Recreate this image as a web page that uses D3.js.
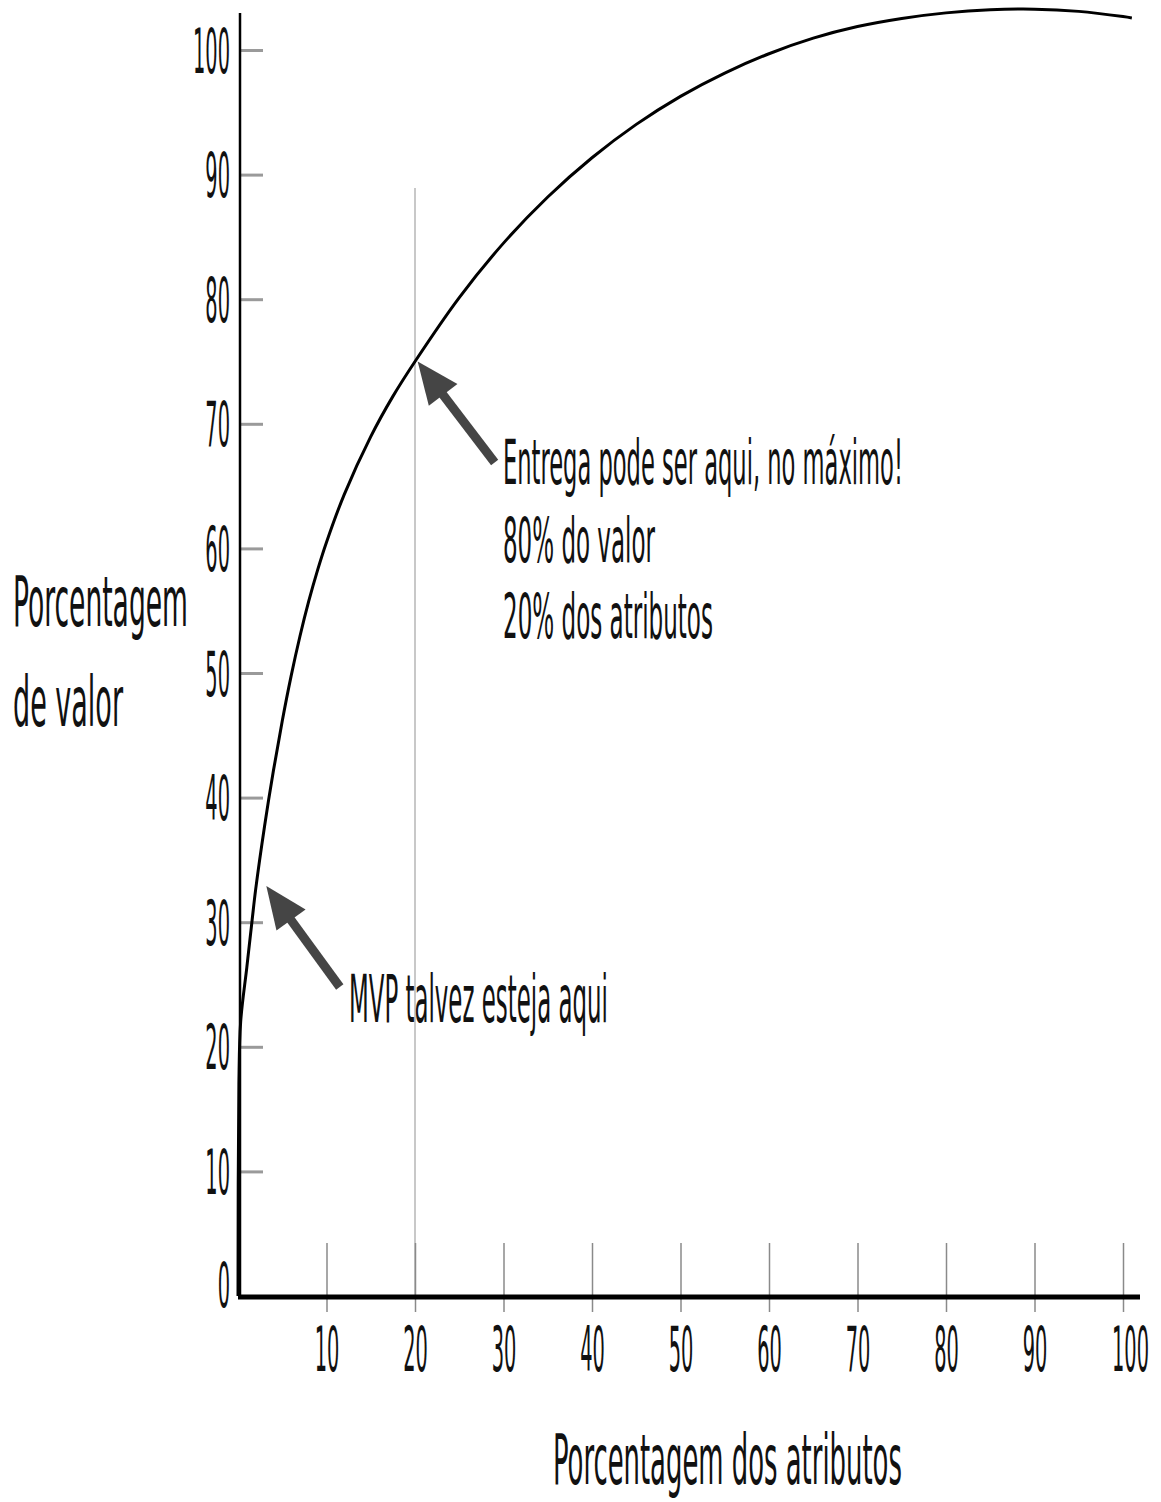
<!DOCTYPE html>
<html>
<head>
<meta charset="utf-8">
<script src="https://cdn.jsdelivr.net/npm/d3@7"></script>
<style>
  html, body { margin: 0; padding: 0; background: #fff; }
  svg { display: block; }
  text { font-family: "Liberation Sans Narrow", "DejaVu Sans Condensed", "Roboto", sans-serif; fill: #111; }
</style>
</head>
<body>
<svg id="chart" width="1161" height="1502"></svg>
<script>
// ---- data ----
const attrPct  = [0, 0.1, 0.3, 1, 1.6, 2, 3, 4, 5, 6, 7, 8, 9, 10, 12, 15, 17.5, 20, 25, 30, 35, 40, 45, 50, 55, 60, 65, 70, 75, 80, 85, 90, 95, 100, 101];
const valuePct = [0, 17, 22, 26.4, 30.2, 32.65, 37.7, 42.15, 46.15, 49.75, 52.95, 55.78, 58.28, 60.5, 64.32, 68.97, 72.2, 75, 80.13, 84.5, 88.2, 91.35, 94.03, 96.28, 98.15, 99.7, 100.95, 101.88, 102.53, 102.98, 103.23, 103.28, 103.1, 102.68, 102.57];
const xTickValues = [10, 20, 30, 40, 50, 60, 70, 80, 90, 100];
const yTickValues = [0, 10, 20, 30, 40, 50, 60, 70, 80, 90, 100];
const xTitle = "Porcentagem dos atributos";
const yTitle = ["Porcentagem", "de valor"];
const note1 = ["Entrega pode ser aqui, no máximo!", "80% do valor", "20% dos atributos"];
const note2 = "MVP talvez esteja aqui";
const markerX = 20;          // vertical reference line
const arrow1 = {from: [29, 66.9], to: [20.3, 75]};
const arrow2 = {from: [11.5, 24.8], to: [3.2, 32.9]};

// ---- scales ----
const svg = d3.select("#chart");
const x = d3.scaleLinear().domain([0, 100]).range([238, 1123]);
const y = d3.scaleLinear().domain([0, 100]).range([1296, 50]);

function fitText(t, tx, ty, targetW) {
  t.attr("x", 0).attr("y", 0);
  const w = t.node().getComputedTextLength();
  t.attr("transform", `translate(${tx},${ty}) scale(${targetW / w},1)`);
}

// vertical reference line at 20%
svg.append("line")
  .attr("x1", x(markerX)).attr("x2", x(markerX))
  .attr("y1", 188).attr("y2", y(0))
  .attr("stroke", "#c8c8c8").attr("stroke-width", 2);

// ---- y axis ----
const yAxis = d3.axisLeft(y).tickValues(yTickValues).tickSizeInner(-23).tickSizeOuter(0).tickPadding(10);
const gy = svg.append("g").attr("transform", `translate(240,0)`).call(yAxis);
gy.select(".domain").remove();
gy.attr("font-family", null);
gy.selectAll(".tick line").attr("stroke", "#9a9a9a").attr("stroke-width", 3);
gy.selectAll(".tick text").attr("font-size", 62).attr("fill", "#111").attr("dy", null);
const ySample = gy.selectAll(".tick text").filter(d => d === 100).node().getComputedTextLength();
const sTick = 37 / ySample;
gy.selectAll(".tick text").each(function(d) {
  d3.select(this).attr("x", 0).attr("y", 0)
    .attr("transform", `translate(-10,${d === 0 ? 10 : 22}) scale(${sTick},1)`);
});

svg.append("line")
  .attr("x1", 240).attr("x2", 240).attr("y1", 13).attr("y2", 1298)
  .attr("stroke", "#000").attr("stroke-width", 2.5);

// ---- x axis ----
const xAxis = d3.axisBottom(x).tickValues(xTickValues).tickSizeInner(69).tickSizeOuter(0).tickPadding(0);
const gx = svg.append("g").attr("transform", `translate(0,1243)`).call(xAxis);
gx.select(".domain").remove();
gx.attr("font-family", null);
gx.selectAll(".tick line").attr("stroke", "#8a8a8a").attr("stroke-width", 1.5);
gx.selectAll(".tick text").attr("font-size", 62).attr("fill", "#111").attr("dy", null)
  .each(function(d) {
    d3.select(this).attr("x", 0).attr("y", 0)
      .attr("transform", `translate(${d === 100 ? 7 : 0},128) scale(${sTick},1)`);
  });

svg.append("line")
  .attr("x1", 238).attr("x2", 1140).attr("y1", y(0) + 1).attr("y2", y(0) + 1)
  .attr("stroke", "#000").attr("stroke-width", 5);

// ---- curve ----
const pts = attrPct.map((a, i) => [a, valuePct[i]]);
const line = d3.line().x(d => x(d[0])).y(d => y(d[1])).curve(d3.curveCatmullRom.alpha(0.5));
svg.append("path").datum(pts)
  .attr("d", line).attr("fill", "none").attr("stroke", "#000").attr("stroke-width", 3);

// ---- arrows ----
function drawArrow(a) {
  const x0 = x(a.from[0]), y0 = y(a.from[1]), x1 = x(a.to[0]), y1 = y(a.to[1]);
  const ang = Math.atan2(y1 - y0, x1 - x0);
  const headL = 42, headW = 18;
  const bx = x1 - headL * Math.cos(ang), by = y1 - headL * Math.sin(ang);
  svg.append("line").attr("x1", x0).attr("y1", y0).attr("x2", bx + 4 * Math.cos(ang)).attr("y2", by + 4 * Math.sin(ang))
    .attr("stroke", "#454545").attr("stroke-width", 9);
  const px = -Math.sin(ang), py = Math.cos(ang);
  svg.append("path")
    .attr("d", `M${x1},${y1} L${bx + px * headW},${by + py * headW} L${bx - px * headW},${by - py * headW} Z`)
    .attr("fill", "#454545");
}
drawArrow(arrow1);
drawArrow(arrow2);

// ---- texts ----
function addText(str, tx, ty, size, targetW) {
  const t = svg.append("text").attr("font-size", size).text(str);
  fitText(t, tx, ty, targetW);
}
addText(note1[0], 503, 484, 62, 400);
addText(note1[1], 503, 562, 62, 152);
addText(note1[2], 503, 638, 62, 210);
addText(note2, 349, 1022, 66, 259);
addText(yTitle[0], 13, 626, 70, 175);
addText(yTitle[1], 13, 726, 70, 110);
addText(xTitle, 553, 1484, 70, 349);
</script>
</body>
</html>
